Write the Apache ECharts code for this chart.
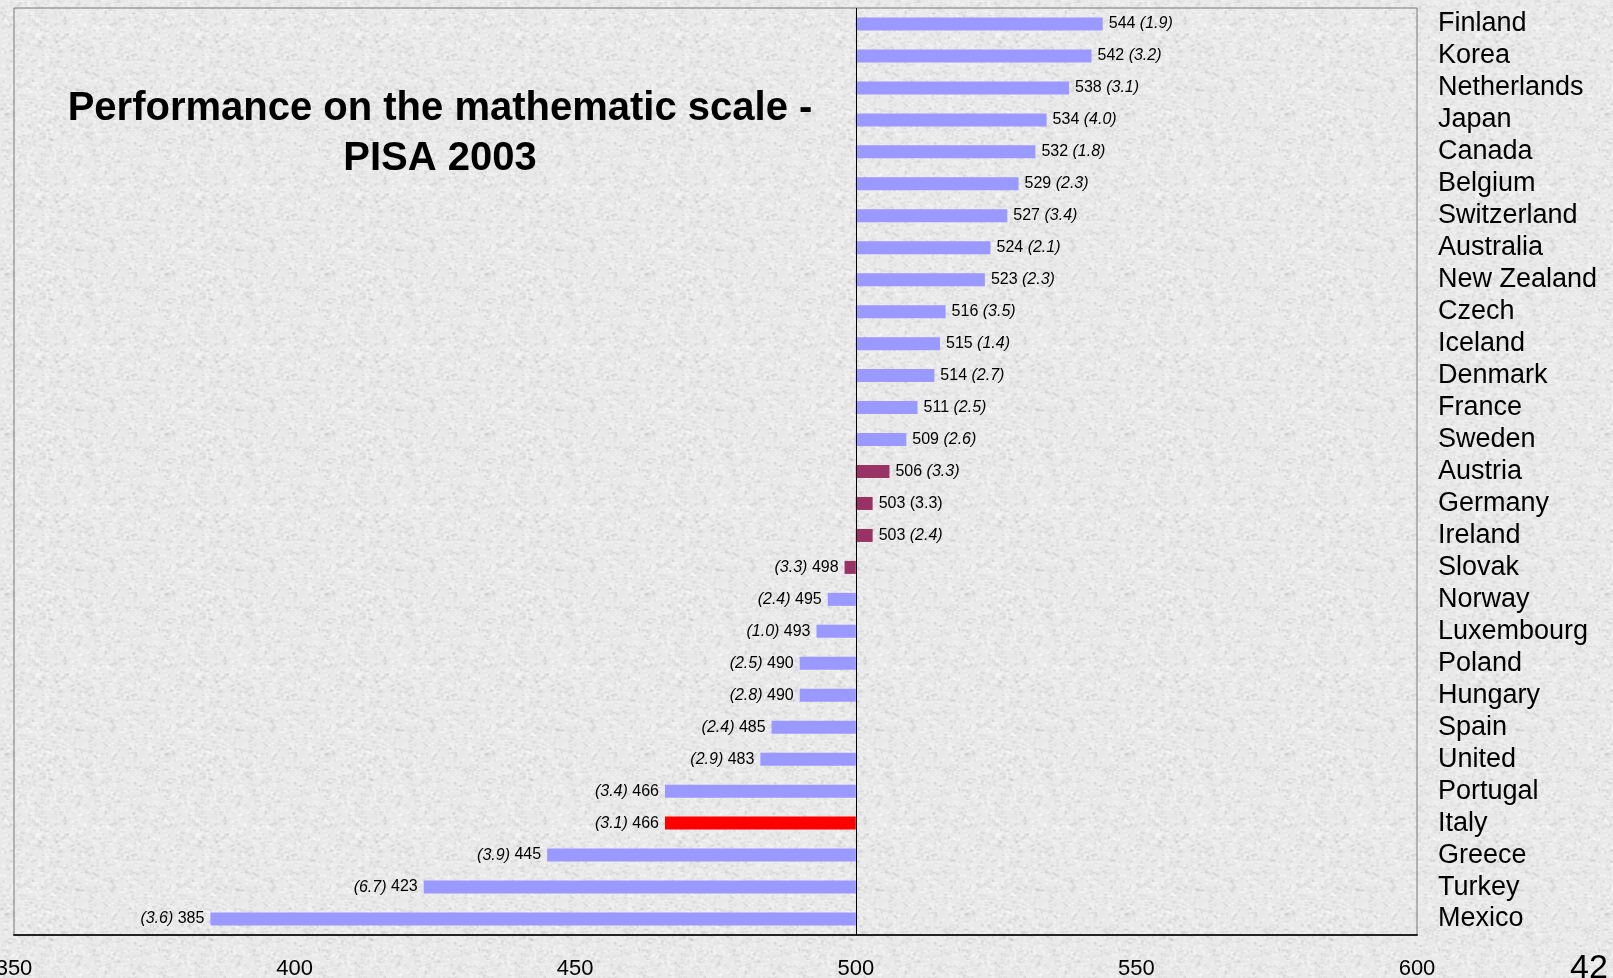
<!DOCTYPE html>
<html>
<head>
<meta charset="utf-8">
<script src="https://cdn.jsdelivr.net/npm/echarts@6/dist/echarts.min.js"></script>
<style>
html,body{margin:0;padding:0;background:#e8e8e8;}
#chart{width:1613px;height:978px;}
</style>
</head>
<body>
<div id="chart"></div>
<script>
const countries = ['Finland','Korea','Netherlands','Japan','Canada','Belgium','Switzerland','Australia','New Zealand','Czech','Iceland','Denmark','France','Sweden','Austria','Germany','Ireland','Slovak','Norway','Luxembourg','Poland','Hungary','Spain','United','Portugal','Italy','Greece','Turkey','Mexico'];
const scores = [544,542,538,534,532,529,527,524,523,516,515,514,511,509,506,503,503,498,495,493,490,490,485,483,466,466,445,423,385];
const stdErrors = ['1.9','3.2','3.1','4.0','1.8','2.3','3.4','2.1','2.3','3.5','1.4','2.7','2.5','2.6','3.3','3.3','2.4','3.3','2.4','1.0','2.5','2.8','2.4','2.9','3.4','3.1','3.9','6.7','3.6'];
const seItalic = [true,true,true,true,true,true,true,true,true,true,true,true,true,true,true,false,true,true,true,true,true,true,true,true,true,true,true,true,true];
const groups = ['above','above','above','above','above','above','above','above','above','above','above','above','above','above','near','near','near','near','below','below','below','below','below','below','below','focus','below','below','below'];
const xTicks = [350,400,450,500,550,600];
const baseline = 500;

const groupColors = {above:'#9999FF', below:'#9999FF', near:'#993366', focus:'#FF0000'};

const baseData = scores.map(v => Math.min(v, baseline));
const barData = scores.map((v, i) => {
  const above = v >= baseline;
  const se = '(' + stdErrors[i] + ')';
  const seTag = seItalic[i] ? 'e' : 'v';
  return {
    value: Math.abs(v - baseline),
    itemStyle: {color: groupColors[groups[i]]},
    label: {
      show: true,
      position: above ? 'right' : 'left',
      distance: 6,
      formatter: above ? '{v|' + v + ' }{' + seTag + '|' + se + '}' : '{' + seTag + '|' + se + '}{v| ' + v + '}',
    }
  };
});

// subtle paper texture (decorative only)
function makeTexture() {
  const c = document.createElement('canvas');
  c.width = 160; c.height = 160;
  const g = c.getContext('2d');
  g.fillStyle = '#e9e9e9';
  g.fillRect(0, 0, 160, 160);
  let s = 12345;
  function h() { s = (s * 1103515245 + 12345) & 0x7fffffff; return s / 0x7fffffff; }
  for (let k = 0; k < 3200; k++) {
    const x = h() * 160, y = h() * 160, w = 1 + h() * 3, t = 1 + h() * 2;
    const sh = h();
    g.fillStyle = sh < 0.45 ? 'rgba(170,170,170,0.16)' : 'rgba(255,255,255,0.35)';
    g.fillRect(x, y, w, t);
  }
  return c;
}

const chart = echarts.init(document.getElementById('chart'), null, {renderer:'canvas'});
const fam = 'Arial, "Liberation Sans", Helvetica, sans-serif';
chart.setOption({
  backgroundColor: {image: makeTexture(), repeat: 'repeat'},
  animation: false,
  textStyle: {fontFamily: fam},
  title: {
    text: 'Performance on the mathematic scale -\nPISA 2003',
    left: 435, top: 79, textAlign: 'center',
    textStyle: {fontFamily: fam, fontSize: 40, fontWeight: 'bold', color: '#000', lineHeight: 50}
  },
  graphic: [{
    type: 'text', left: 1570, top: 952,
    style: {text: '42', font: '34px ' + fam, fill: '#000'}
  }],
  grid: {left: 14, right: 196, top: 8, height: 927, show: true, borderColor: '#777', borderWidth: 1, backgroundColor: 'transparent', containLabel: false, outerBoundsMode: 'none'},
  xAxis: {
    type: 'value', min: xTicks[0], max: xTicks[xTicks.length-1], interval: 50,
    axisLine: {show: true, onZero: false, lineStyle: {color: '#222', width: 2}},
    axisTick: {show: false},
    splitLine: {show: false},
    axisLabel: {fontSize: 22, color: '#000', margin: 23, fontFamily: fam, hideOverlap: false}
  },
  yAxis: {
    type: 'category', data: countries, inverse: true, position: 'right',
    axisLine: {show: false}, axisTick: {show: false}, splitLine: {show: false},
    axisLabel: {fontSize: 27, color: '#000', margin: 21, fontFamily: fam, align: 'left', interval: 0}
  },
  series: [
    {type: 'bar', stack: 's', data: baseData, barWidth: 13, itemStyle: {color: 'rgba(0,0,0,0)'}, silent: true,
     markLine: {silent: true, symbol: 'none', label: {show: false}, lineStyle: {color: '#000', width: 1, type: 'solid'}, data: [{xAxis: baseline}]}},
    {type: 'bar', stack: 's', data: barData, barWidth: 13,
     label: {show: true, color: '#000', fontSize: 16, rich: {
       v: {fontSize: 16, color: '#000', fontFamily: fam},
       e: {fontSize: 16, color: '#000', fontStyle: 'italic', fontFamily: fam}
     }}}
  ]
});
</script>
</body>
</html>
